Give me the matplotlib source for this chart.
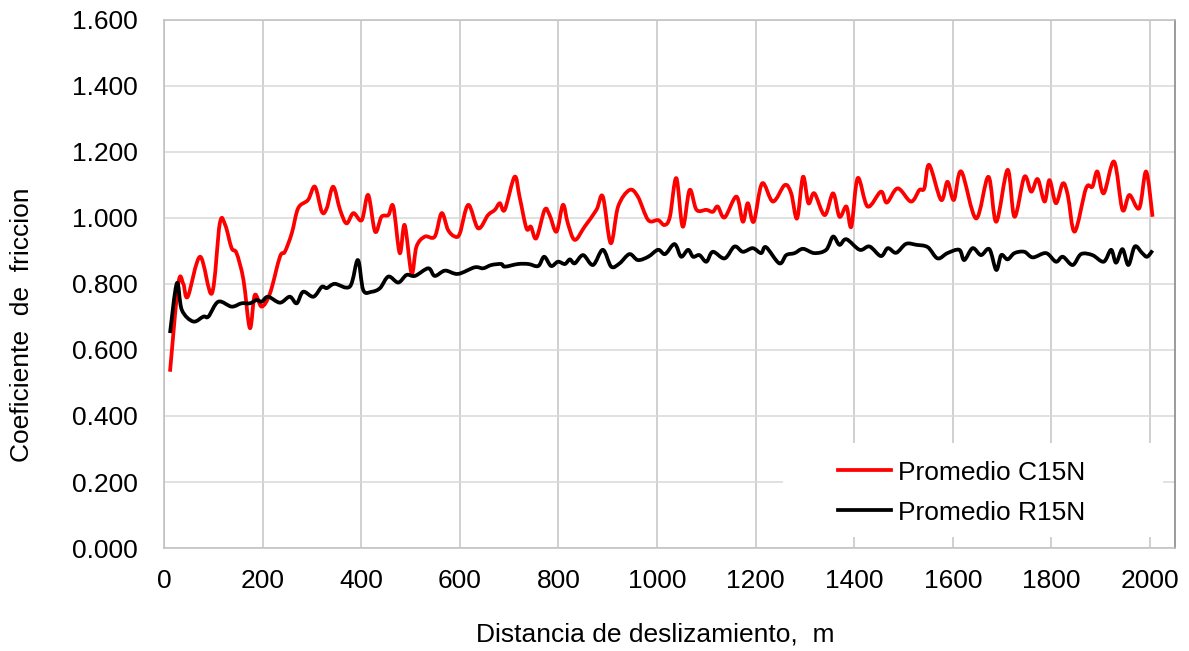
import matplotlib
matplotlib.use("Agg")
import numpy as np
import matplotlib.pyplot as plt
from matplotlib.patches import Rectangle, PathPatch
from matplotlib.path import Path

# Sliding distance (m) and friction coefficient, averaged test series
dist_c15n = [12, 29, 39, 48, 73, 97, 113, 124, 137, 147, 161, 174, 184, 198, 215, 235, 245,
             259, 272, 292, 306, 320, 330, 343, 357, 370, 384, 401, 414, 428, 441, 455, 465,
             478, 488, 502, 512, 529, 549, 563, 576, 590, 600, 617, 637, 657, 671, 681, 691,
             711, 721, 735, 744, 755, 772, 782, 796, 809, 819, 833, 853, 877, 890, 906, 921,
             944, 961, 982, 1002, 1015, 1026, 1039, 1052, 1066, 1080, 1100, 1113, 1123, 1137,
             1161, 1174, 1184, 1196, 1213, 1235, 1259, 1272, 1284, 1296, 1307, 1319, 1340,
             1357, 1370, 1384, 1394, 1407, 1427, 1454, 1466, 1488, 1515, 1532, 1542, 1552,
             1576, 1589, 1602, 1617, 1647, 1672, 1688, 1711, 1725, 1745, 1759, 1772, 1786,
             1796, 1809, 1823, 1833, 1847, 1870, 1883, 1893, 1906, 1927, 1944, 1958, 1978,
             1992, 2005]
mu_c15n = [0.534, 0.802, 0.800, 0.761, 0.882, 0.771, 0.983, 0.978, 0.908, 0.893, 0.812, 0.666,
           0.766, 0.731, 0.772, 0.882, 0.897, 0.953, 1.029, 1.054, 1.094, 1.018, 1.029, 1.094,
           1.024, 0.983, 1.014, 0.993, 1.069, 0.958, 1.003, 1.008, 1.034, 0.893, 0.978, 0.832,
           0.913, 0.943, 0.943, 1.014, 0.963, 0.943, 0.953, 1.039, 0.968, 1.008, 1.024, 1.044,
           1.024, 1.124, 1.064, 0.968, 0.973, 0.938, 1.024, 1.008, 0.958, 1.039, 0.983, 0.933,
           0.973, 1.024, 1.064, 0.923, 1.034, 1.084, 1.064, 0.993, 0.993, 0.978, 1.003, 1.120,
           0.973, 1.084, 1.024, 1.024, 1.018, 1.034, 1.001, 1.064, 0.988, 1.044, 0.988, 1.104,
           1.049, 1.099, 1.074, 0.998, 1.124, 1.044, 1.074, 1.008, 1.074, 1.003, 1.034, 0.973,
           1.120, 1.034, 1.079, 1.046, 1.089, 1.049, 1.084, 1.089, 1.160, 1.054, 1.109, 1.054,
           1.140, 0.998, 1.124, 0.988, 1.145, 1.003, 1.124, 1.079, 1.117, 1.049, 1.114, 1.044,
           1.104, 1.069, 0.958, 1.089, 1.094, 1.140, 1.074, 1.170, 1.024, 1.069, 1.029, 1.140,
           1.003]

dist_r15n = [12, 26, 36, 59, 80, 90, 110, 137, 157, 174, 188, 198, 211, 235, 255, 269, 282,
             303, 320, 330, 346, 377, 393, 404, 421, 438, 455, 475, 492, 509, 536, 549, 570,
             596, 630, 647, 664, 684, 691, 718, 739, 759, 771, 785, 799, 813, 823, 833, 850,
             870, 890, 907, 924, 944, 961, 982, 1002, 1016, 1032, 1039, 1049, 1063, 1073,
             1086, 1100, 1113, 1137, 1157, 1174, 1194, 1211, 1221, 1248, 1262, 1279, 1296,
             1319, 1343, 1357, 1370, 1384, 1411, 1431, 1454, 1468, 1485, 1505, 1526, 1549,
             1569, 1589, 1613, 1623, 1640, 1657, 1674, 1688, 1698, 1711, 1725, 1745, 1762,
             1789, 1809, 1823, 1843, 1860, 1883, 1906, 1921, 1931, 1944, 1956, 1969, 1984,
             1994, 2005]
mu_r15n = [0.651, 0.802, 0.721, 0.686, 0.701, 0.701, 0.746, 0.731, 0.741, 0.741, 0.751, 0.746,
           0.761, 0.743, 0.761, 0.741, 0.776, 0.761, 0.791, 0.787, 0.800, 0.792, 0.872, 0.781,
           0.776, 0.787, 0.822, 0.804, 0.827, 0.824, 0.847, 0.824, 0.840, 0.830, 0.850, 0.847,
           0.857, 0.860, 0.852, 0.860, 0.860, 0.854, 0.882, 0.854, 0.867, 0.860, 0.874, 0.862,
           0.887, 0.857, 0.903, 0.852, 0.862, 0.890, 0.872, 0.882, 0.903, 0.890, 0.918, 0.915,
           0.882, 0.903, 0.882, 0.887, 0.867, 0.897, 0.877, 0.913, 0.897, 0.908, 0.893, 0.911,
           0.862, 0.887, 0.893, 0.906, 0.893, 0.903, 0.943, 0.918, 0.935, 0.903, 0.913, 0.884,
           0.908, 0.894, 0.921, 0.918, 0.911, 0.877, 0.893, 0.903, 0.872, 0.908, 0.887, 0.905,
           0.842, 0.887, 0.874, 0.893, 0.897, 0.880, 0.893, 0.867, 0.882, 0.857, 0.890, 0.887,
           0.867, 0.903, 0.864, 0.905, 0.857, 0.913, 0.893, 0.882, 0.901]

x_ticks = list(range(0, 2001, 200))
y_ticks = [0.0, 0.2, 0.4, 0.6, 0.8, 1.0, 1.2, 1.4, 1.6]

plt.rcParams["font.family"] = ["Liberation Sans", "DejaVu Sans"]
FS = 19
LW = 2.7


def smooth_path(x, y, tension=1.0 / 6.0):
    """Smoothed line through the points (Catmull-Rom segments as cubic Beziers)."""
    x = np.asarray(x, float)
    y = np.asarray(y, float)
    n = len(x)
    verts = [(x[0], y[0])]
    codes = [Path.MOVETO]
    for i in range(n - 1):
        i0 = max(i - 1, 0)
        i3 = min(i + 2, n - 1)
        c1 = (x[i] + (x[i + 1] - x[i0]) * tension, y[i] + (y[i + 1] - y[i0]) * tension)
        c2 = (x[i + 1] - (x[i3] - x[i]) * tension, y[i + 1] - (y[i3] - y[i]) * tension)
        verts += [c1, c2, (x[i + 1], y[i + 1])]
        codes += [Path.CURVE4] * 3
    return Path(verts, codes)


fig = plt.figure(figsize=(11.89, 6.51), dpi=100)
ax = fig.add_axes([0.138, 0.158, 0.850, 0.812])

series = [
    (dist_c15n, mu_c15n, "#ff0000", "Promedio C15N"),
    (dist_r15n, mu_r15n, "#000000", "Promedio R15N"),
]
for xs, ys, col, lab in series:
    ax.add_patch(PathPatch(smooth_path(xs, ys), facecolor="none", edgecolor=col,
                           lw=LW, joinstyle="round", capstyle="butt", zorder=3))
    ax.plot([], [], color=col, lw=LW, label=lab)

ax.set_xlim(0, 2050)
ax.set_ylim(0, 1.6)
ax.set_xticks(x_ticks)
ax.set_yticks(y_ticks)
ax.set_yticklabels([f"{v:.3f}" for v in y_ticks])
ax.tick_params(axis="both", length=0, labelsize=FS, colors="#000000")
ax.tick_params(axis="y", pad=19)
ax.tick_params(axis="x", pad=15)

ax.set_axisbelow(True)
ax.yaxis.grid(True, color="#d9d9d9", lw=1.1)
ax.xaxis.grid(True, color="#c4c4c4", lw=1.1)
for side in ("left", "bottom", "top"):
    ax.spines[side].set_color("#bfbfbf")
    ax.spines[side].set_linewidth(1.1)
ax.spines["right"].set_color("#808080")
ax.spines["right"].set_linewidth(1.1)

ax.set_xlabel("Distancia de deslizamiento,  m", fontsize=FS)
ax.xaxis.set_label_coords(0.486, -0.164)
ax.xaxis.label.set_va("center")
ax.set_ylabel("Coeficiente  de  friccion", fontsize=FS)
ax.yaxis.set_label_coords(-0.1405, 0.422)
ax.yaxis.label.set_va("center")

# white panel behind the legend hides the gridlines there
ax.add_patch(Rectangle((0.612, 0.021), 0.376, 0.178, transform=ax.transAxes,
                       facecolor="white", edgecolor="none", zorder=2))
ax.legend(loc="center left", bbox_to_anchor=(0.667, 0.105), frameon=False,
          fontsize=FS, handlelength=2.0, handletextpad=0.25, labelspacing=0.6,
          borderpad=0, borderaxespad=0)

fig.savefig("out.png", dpi=100)
